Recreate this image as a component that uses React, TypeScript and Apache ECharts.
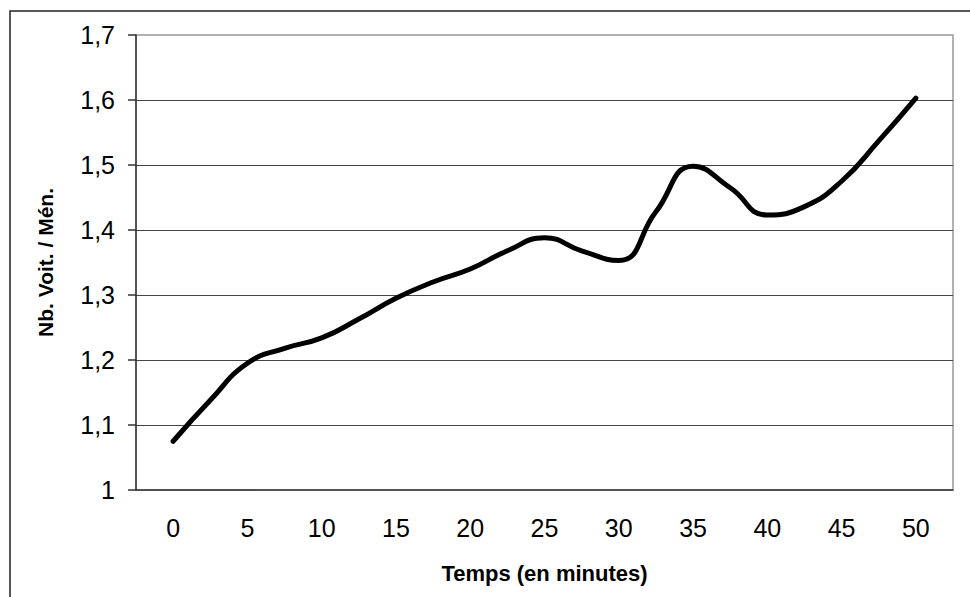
import React, { useEffect, useRef } from "react";
import * as echarts from "echarts";

const minutes = [0, 2.5, 5, 7.5, 10, 12.5, 15, 17.5, 20, 22.5, 25, 27.5, 30, 32.5, 35, 37.5, 40, 42.5, 45, 47.5, 50];
const values = [1.075, 1.138, 1.195, 1.218, 1.234, 1.263, 1.295, 1.32, 1.34, 1.368, 1.388, 1.368, 1.353, 1.428, 1.498, 1.465, 1.423, 1.436, 1.475, 1.537, 1.603];
const xTickLabels = [0, 5, 10, 15, 20, 25, 30, 35, 40, 45, 50];
const xName = "Temps (en minutes)";
const yName = "Nb. Voit. / Mén.";

export default function App() {
  const ref = useRef<HTMLDivElement>(null);
  useEffect(() => {
    if (!ref.current) return;
    const chart = echarts.init(ref.current, null, { renderer: "svg" });
    const font = "'Liberation Sans', Arial, sans-serif";
    chart.setOption({
      animation: false,
      backgroundColor: "#ffffff",
      textStyle: { fontFamily: font },
      graphic: [
        {
          type: "rect",
          shape: { x: 10, y: 11, width: 1200, height: 1200 },
          style: { fill: "none", stroke: "#222", lineWidth: 1.5 },
          silent: true,
          z: -10,
        },
      ],
      grid: {
        left: 136,
        top: 35,
        right: 17,
        bottom: 107,
        show: true,
        borderColor: "#999",
        borderWidth: 1.5,
      },
      xAxis: {
        type: "value",
        min: -2.5,
        max: 52.5,
        name: xName,
        nameLocation: "middle",
        nameGap: 72,
        nameTextStyle: { fontFamily: font, fontSize: 22, fontWeight: "bold", color: "#000" },
        axisLine: { show: true, onZero: false, lineStyle: { color: "#333", width: 1.5 } },
        axisTick: { show: false },
        splitLine: { show: false },
        axisLabel: {
          customValues: xTickLabels,
          fontFamily: font,
          fontSize: 25,
          color: "#000",
          margin: 25,
        },
      },
      yAxis: {
        type: "value",
        min: 1,
        max: 1.7,
        interval: 0.1,
        name: yName,
        nameLocation: "middle",
        nameGap: 80,
        nameTextStyle: { fontFamily: font, fontSize: 21, fontWeight: "bold", color: "#000" },
        axisLine: { show: true, onZero: false, lineStyle: { color: "#333", width: 1.5 } },
        axisTick: { show: true, inside: false, length: 8, lineStyle: { color: "#333", width: 1.5 } },
        splitLine: { show: true, showMaxLine: false, showMinLine: false, lineStyle: { color: "#444", width: 1.2 } },
        axisLabel: {
          fontFamily: font,
          fontSize: 25,
          color: "#000",
          margin: 21,
          formatter: (v: number) => {
            const r = Math.round(v * 10) / 10;
            return r === 1 ? "1" : r.toFixed(1).replace(".", ",");
          },
        },
      },
      series: [
        {
          type: "line",
          data: minutes.map((m, i) => [m, values[i]]),
          smooth: 0.5,
          symbol: "none",
          lineStyle: { color: "#000", width: 5, cap: "round", join: "round" },
        },
      ],
    });
    return () => chart.dispose();
  }, []);
  return (
    <div
      ref={ref}
      style={{ position: "fixed", left: 0, top: 0, width: 970, height: 597, background: "#fff" }}
    />
  );
}
